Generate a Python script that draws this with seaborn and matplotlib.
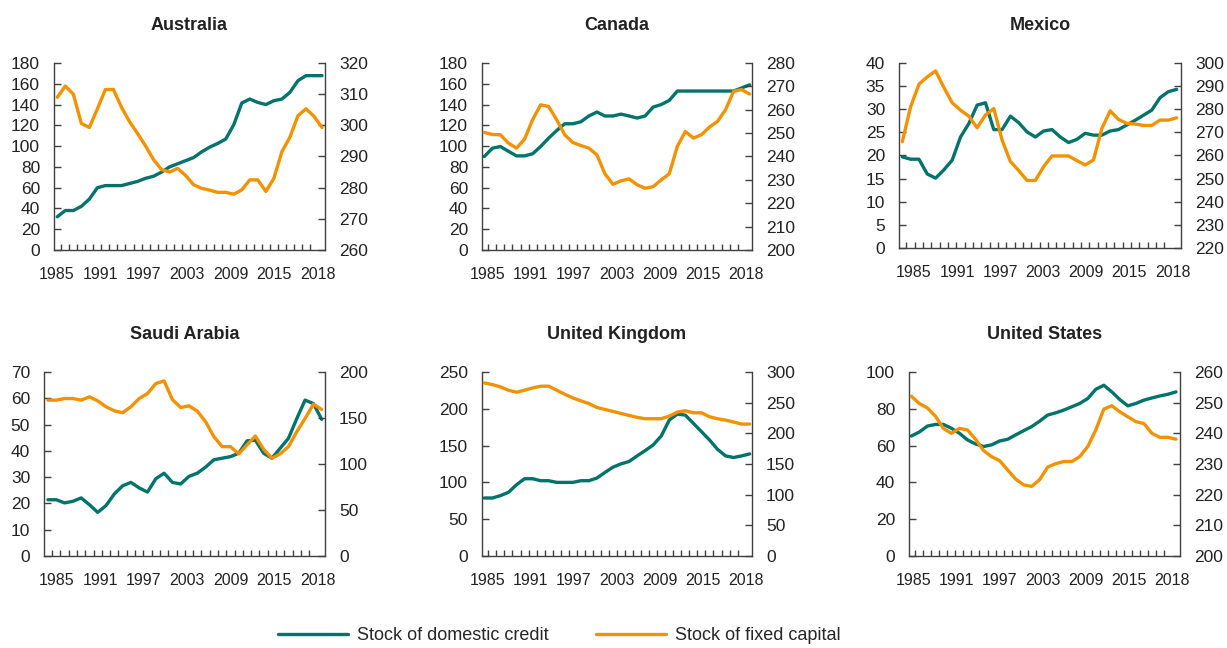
import numpy as np
import pandas as pd
import seaborn as sns
import matplotlib.pyplot as plt

years = list(range(1985, 2019))
countries = ["Australia", "Canada", "Mexico", "Saudi Arabia", "United Kingdom", "United States"]
year_labels = ["1985", "1991", "1997", "2003", "2009", "2015", "2018"]

# stock of domestic credit (left axis)
aus_credit = [32, 38, 38, 42, 49, 60, 62, 62, 62, 64, 66, 69, 71, 75, 80, 83, 86, 89, 94.5, 99,
              102.6, 106.8, 120.6, 141.5, 145.3, 142, 140, 143.7, 145.3, 151.8, 163, 167.8, 167.8, 167.8]
can_credit = [90, 98, 99.6, 95, 90.6, 90.6, 92.6, 99.6, 107.7, 115, 121.5, 121.5, 123.4, 129, 132.8, 129, 129,
              130.8, 129, 127, 129, 137.6, 140, 144, 153, 153, 153, 153, 153, 153, 153, 153, 156, 159]
mex_credit = [19.7, 19.2, 19.2, 16, 15.1, 16.9, 19, 24, 26.9, 30.9, 31.4, 25.6, 25.6, 28.5, 27.1, 25.1, 24,
              25.3, 25.6, 24, 22.8, 23.5, 24.8, 24.4, 24.4, 25.3, 25.6, 26.6, 27.6, 28.7, 29.8, 32.5, 33.8, 34.3]
sau_credit = [21.4, 21.4, 20.2, 20.8, 22.1, 19.5, 16.6, 19.2, 23.6, 26.7, 28, 25.9, 24.3, 29.4, 31.5, 28, 27.4,
              30.3, 31.5, 33.8, 36.6, 37.2, 37.8, 39.1, 43.8, 44.1, 39.1, 37.2, 41, 44.8, 52.3, 59.3, 58, 52]
gbr_credit = [78.8, 78.8, 82, 86.5, 96.8, 105, 105, 102.3, 102.3, 100, 100, 100, 102.3, 102.3, 105.9, 113.5,
              120.7, 125.2, 128.4, 136, 143.2, 150.9, 163, 184.7, 192.8, 191.4, 180.2, 169, 157.7, 145, 136,
              133.8, 136, 138.7]
usa_credit = [65.2, 67.4, 70.6, 71.5, 71.5, 69.4, 66.7, 63.1, 60.9, 59.5, 60.4, 62.5, 63.4, 65.8, 68.1, 70.3,
              73.3, 76.6, 77.8, 79.3, 81.1, 82.9, 85.6, 90.6, 92.8, 89.2, 85, 81.6, 82.9, 84.7, 85.9, 87, 87.9, 89.2]

# stock of fixed capital (right axis)
aus_capital = [309, 312.6, 310, 300.6, 299.3, 305.3, 311.5, 311.5, 305.8, 301.2, 297.4, 293.4, 289, 285.8, 285,
               286.2, 283.9, 280.9, 279.8, 279.2, 278.5, 278.5, 277.9, 279.3, 282.5, 282.5, 278.8, 283, 291.6,
               296.2, 303.1, 305.3, 302.9, 299.3]
can_capital = [250.3, 249.4, 249.3, 245.7, 243.6, 247.4, 255.7, 262.1, 261.4, 255.7, 249.3, 246, 244.7, 243.6,
               240.7, 232.6, 228.1, 229.6, 230.4, 227.9, 226.4, 227.1, 230, 232.6, 244.3, 250.7, 247.9, 249.3,
               252.6, 255, 260, 267.9, 268.6, 266.7]
mex_capital = [266, 281.1, 290.8, 294, 296.6, 289.4, 282.8, 279.6, 277, 272, 277.5, 280.3, 266.7, 257.4, 253.5,
               249.2, 249.2, 255.2, 259.8, 259.8, 259.8, 257.8, 255.9, 258.1, 271.7, 279.3, 275.6, 273.9, 273.6,
               273, 273, 275.3, 275.3, 276.3]
sau_capital = [169.4, 169.4, 171.2, 171.2, 169.4, 173, 168.6, 162.2, 157.8, 155.7, 162.2, 171.2, 176.6, 187.4,
               190.3, 170, 161.4, 163.2, 157.5, 146, 129.7, 118.9, 118.9, 111, 120.7, 130.5, 116, 106.3, 111,
               118.9, 135.1, 149.5, 165, 159.3]
gbr_capital = [282.2, 279.5, 275.7, 270.3, 267, 270.3, 274, 276.8, 276.8, 270.3, 263.8, 257.8, 253, 248.6, 242.2,
               238.9, 235.7, 232.4, 229.2, 226, 223.8, 223.8, 223.8, 228, 234.6, 236.8, 233.5, 233.5, 227, 223.8,
               221.6, 218.4, 215.1, 215.1]
usa_capital = [252.1, 249.7, 248.3, 245.6, 241.6, 240, 241.6, 241.1, 238.1, 234.4, 232.4, 231.1, 228.1, 225.1,
               223.2, 222.7, 224.9, 229, 230.1, 230.8, 230.8, 232.4, 235.7, 241.1, 247.9, 249, 247, 245.4, 243.8,
               243.2, 240, 238.7, 238.7, 238.1]

credit = [aus_credit, can_credit, mex_credit, sau_credit, gbr_credit, usa_credit]
capital = [aus_capital, can_capital, mex_capital, sau_capital, gbr_capital, usa_capital]

left_ticks = [np.arange(0, 181, 20), np.arange(0, 181, 20), np.arange(0, 41, 5),
              np.arange(0, 71, 10), np.arange(0, 251, 50), np.arange(0, 101, 20)]
right_ticks = [np.arange(260, 321, 10), np.arange(200, 281, 10), np.arange(220, 301, 10),
               np.arange(0, 201, 50), np.arange(0, 301, 50), np.arange(200, 261, 10)]

# layout: axes boxes in pixels (left, top, right, bottom), x padding, first label offset
boxes = [(54, 63, 325, 250), (482, 63, 752, 250), (899, 63, 1181, 248),
         (44, 372, 325, 556), (482, 372, 752, 556), (909, 372, 1180, 556)]
xpads = [(0.41, 0.37), (0.29, 0.29), (0.40, 0.52), (0.48, 0.40), (0.29, 0.29), (0.29, 0.50)]
label_start = [-0.1, 0.4, 1.4, 1.05, 0.46, 0.3]

TEAL = "#00736A"
ORANGE = "#F39200"
SPINE = "#404040"
TXT = "#222222"

sns.set_style("ticks")
plt.rcParams["font.family"] = ["Liberation Sans", "DejaVu Sans"]

W, H = 1227, 648
fig = plt.figure(figsize=(W / 100, H / 100), dpi=100)

for k, name in enumerate(countries):
    l, t, r, b = boxes[k]
    ax = fig.add_axes([l / W, 1 - b / H, (r - l) / W, (b - t) / H])
    ax2 = ax.twinx()
    df = pd.DataFrame({"year": years, "credit": credit[k], "capital": capital[k]})

    sns.lineplot(data=df, x="year", y="credit", ax=ax, color=TEAL, linewidth=2.4,
                 label="Stock of domestic credit", legend=False)
    sns.lineplot(data=df, x="year", y="capital", ax=ax2, color=ORANGE, linewidth=2.4,
                 label="Stock of fixed capital", legend=False)

    lt, rt = left_ticks[k], right_ticks[k]
    ax.set_ylim(lt[0], lt[-1])
    ax2.set_ylim(rt[0], rt[-1])
    ax.set_yticks(lt)
    ax2.set_yticks(rt)
    ax.set_xlim(years[0] - xpads[k][0], years[-1] + xpads[k][1])

    pos = years[0] + np.linspace(label_start[k], 32.5, len(year_labels))
    ax.set_xticks(pos)
    ax.set_xticklabels(year_labels, fontsize=11.5, color=TXT)
    ax.set_xticks(np.array(years[:-1]) + 0.5, minor=True)
    ax.tick_params(axis="x", which="major", length=0, pad=12)
    ax.tick_params(axis="x", which="minor", direction="in", length=4, width=1, color=SPINE)
    ax.tick_params(axis="y", direction="in", length=5, width=1, color=SPINE,
                   labelsize=12.5, labelcolor=TXT, pad=10)
    ax2.tick_params(axis="y", direction="in", length=5, width=1, color=SPINE,
                    labelsize=12.5, labelcolor=TXT, pad=10)

    ax.set_xlabel("")
    ax.set_ylabel("")
    ax2.set_ylabel("")
    ax.set_title(name, fontsize=13, fontweight="bold", color=TXT, pad=23.5)

    for a in (ax, ax2):
        a.spines["top"].set_visible(False)
        for s in ("left", "right", "bottom"):
            a.spines[s].set_color(SPINE)
            a.spines[s].set_linewidth(1)
    ax.spines["right"].set_visible(False)
    ax2.spines["left"].set_visible(False)
    ax2.spines["bottom"].set_visible(False)

    if k == 0:
        h1, l1 = ax.get_legend_handles_labels()
        h2, l2 = ax2.get_legend_handles_labels()

fig.legend(h1 + h2, l1 + l2, loc="center", bbox_to_anchor=(0.456, 0.019), ncol=2,
           frameon=False, fontsize=13, handlelength=3.9, handletextpad=0.5, columnspacing=2.6)

fig.savefig("out.png", dpi=100)
